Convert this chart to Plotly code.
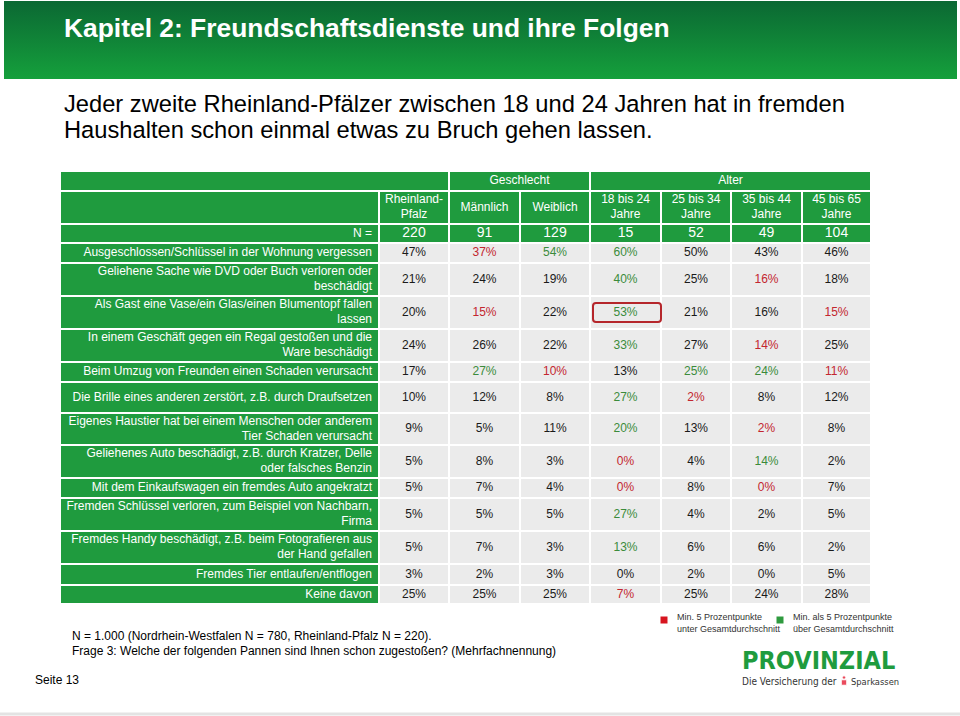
import plotly.graph_objects as go

# ---------------- data ----------------
TITLE = "Kapitel 2: Freundschaftsdienste und ihre Folgen"
SUBTITLE = ["Jeder zweite Rheinland-Pfälzer zwischen 18 und 24 Jahren hat in fremden",
            "Haushalten schon einmal etwas zu Bruch gehen lassen."]

COLUMN_HEADERS = ["Rheinland-\nPfalz", "Männlich", "Weiblich", "18 bis 24\nJahre",
                  "25 bis 34\nJahre", "35 bis 44\nJahre", "45 bis 65\nJahre"]
GROUP_LABELS = ["Geschlecht", "Alter"]
GROUP_SIZES = [2, 4]
N_LABEL = "N ="
N_VALUES = [220, 91, 129, 15, 52, 49, 104]

CATEGORIES = [
    "Ausgeschlossen/Schlüssel in der Wohnung vergessen",
    "Geliehene Sache wie DVD oder Buch verloren oder\nbeschädigt",
    "Als Gast eine Vase/ein Glas/einen Blumentopf fallen\nlassen",
    "In einem Geschäft gegen ein Regal gestoßen und die\nWare beschädigt",
    "Beim Umzug von Freunden einen Schaden verursacht",
    "Die Brille eines anderen zerstört, z.B. durch Draufsetzen",
    "Eigenes Haustier hat bei einem Menschen oder anderem\nTier Schaden verursacht",
    "Geliehenes Auto beschädigt, z.B. durch Kratzer, Delle\noder falsches Benzin",
    "Mit dem Einkaufswagen ein fremdes Auto angekratzt",
    "Fremden Schlüssel verloren, zum Beispiel von Nachbarn,\nFirma",
    "Fremdes Handy beschädigt, z.B. beim Fotografieren aus\nder Hand gefallen",
    "Fremdes Tier entlaufen/entflogen",
    "Keine davon",
]

RHEINLAND_PFALZ = [47, 21, 20, 24, 17, 10, 9, 5, 5, 5, 5, 3, 25]
MAENNLICH = [37, 24, 15, 26, 27, 12, 5, 8, 7, 5, 7, 2, 25]
WEIBLICH = [54, 19, 22, 22, 10, 8, 11, 3, 4, 5, 3, 3, 25]
AGE_18_24 = [60, 40, 53, 33, 13, 27, 20, 0, 0, 27, 13, 0, 7]
AGE_25_34 = [50, 25, 21, 27, 25, 2, 13, 4, 8, 4, 6, 2, 25]
AGE_35_44 = [43, 16, 16, 14, 24, 8, 2, 14, 0, 2, 6, 0, 24]
AGE_45_65 = [46, 18, 15, 25, 11, 12, 8, 2, 7, 5, 2, 5, 28]
SERIES = [RHEINLAND_PFALZ, MAENNLICH, WEIBLICH, AGE_18_24, AGE_25_34, AGE_35_44, AGE_45_65]

HIGHLIGHT_ROW = 2
HIGHLIGHT_COL = 3
THRESHOLD = 5  # percentage points vs. total

LEGEND_TEXTS = ["Min. 5 Prozentpunkte<br>unter Gesamtdurchschnitt",
                "Min. als 5 Prozentpunkte<br>über Gesamtdurchschnitt"]
FOOTNOTE = ["N = 1.000 (Nordrhein-Westfalen N = 780, Rheinland-Pfalz N = 220).",
            "Frage 3: Welche der folgenden Pannen sind Ihnen schon zugestoßen? (Mehrfachnennung)"]
PAGE = "Seite 13"
LOGO = "PROVINZIAL"
TAGLINE = ["Die Versicherung der", "Sparkassen"]

# ---------------- layout / style ----------------
W, H = 960, 716
FONT = "Liberation Sans, Arial, Helvetica, sans-serif"
NARROW = "Liberation Sans Narrow, DejaVu Sans Condensed, Arial Narrow, " + FONT
COL_EDGES = [61, 380, 450, 521, 591, 662, 732, 803, 872]
HEADER_ROWS = [(172, 192), (192, 225), (225, 244)]
ROW_TOP = 244
ROW_HEIGHTS = [20, 33, 33, 33, 20, 31, 32, 33, 20, 33, 33, 21, 19]
GAP = 2
LINE_STEP = 15
LABEL_PAD = 8

GREEN = "#1f9b3e"
CELL_GRAY = "#ebebeb"
TXT = "#1a1a1a"
RED_TXT = "#c3262f"
GREEN_TXT = "#3b8b3b"

bx0, bx1, by0, by1, bcol = [], [], [], [], []


def add_cell(x0, x1, y0, y1, color):
    bx0.append(x0)
    bx1.append(x1 - GAP)
    by0.append(y0)
    by1.append(y1 - GAP)
    bcol.append(color)


ctx, cty, ctt, ctc, cts = [], [], [], [], []   # centred text
rtx, rty, rtt, rtc, rts = [], [], [], [], []   # right-aligned text


def add_text(lines, x, yc, color, size, right=False):
    parts = lines.split("\n")
    n = len(parts)
    for i, p in enumerate(parts):
        y = yc + (i - (n - 1) / 2) * LINE_STEP
        if right:
            rtx.append(x); rty.append(y); rtt.append(p); rtc.append(color); rts.append(size)
        else:
            ctx.append(x); cty.append(y); ctt.append(p); ctc.append(color); cts.append(size)


def cc(i):
    return (COL_EDGES[i] + COL_EDGES[i + 1] - GAP) / 2


def rc(y0, y1):
    return (y0 + y1 - GAP) / 2


# header row 1
h0, h1 = HEADER_ROWS[0]
add_cell(COL_EDGES[0], COL_EDGES[2], h0, h1, GREEN)
start = 2
for lab, size in zip(GROUP_LABELS, GROUP_SIZES):
    add_cell(COL_EDGES[start], COL_EDGES[start + size], h0, h1, GREEN)
    add_text(lab, (COL_EDGES[start] + COL_EDGES[start + size] - GAP) / 2, rc(h0, h1), "white", 12)
    start += size

# header row 2
h0, h1 = HEADER_ROWS[1]
add_cell(COL_EDGES[0], COL_EDGES[1], h0, h1, GREEN)
for j, lab in enumerate(COLUMN_HEADERS):
    add_cell(COL_EDGES[j + 1], COL_EDGES[j + 2], h0, h1, GREEN)
    add_text(lab, cc(j + 1), rc(h0, h1), "white", 12)

# N row
h0, h1 = HEADER_ROWS[2]
add_cell(COL_EDGES[0], COL_EDGES[1], h0, h1, GREEN)
add_text(N_LABEL, COL_EDGES[1] - LABEL_PAD, rc(h0, h1), "white", 12, right=True)
for j, nv in enumerate(N_VALUES):
    add_cell(COL_EDGES[j + 1], COL_EDGES[j + 2], h0, h1, GREEN)
    add_text(str(nv), cc(j + 1), rc(h0, h1), "white", 14)

# data rows
y = ROW_TOP
row_bounds = []
for r, (cat, hgt) in enumerate(zip(CATEGORIES, ROW_HEIGHTS)):
    y0, y1 = y, y + hgt
    row_bounds.append((y0, y1))
    add_cell(COL_EDGES[0], COL_EDGES[1], y0, y1, GREEN)
    add_text(cat, COL_EDGES[1] - LABEL_PAD, rc(y0, y1), "white", 12, right=True)
    total = SERIES[0][r]
    for j, ser in enumerate(SERIES):
        v = ser[r]
        add_cell(COL_EDGES[j + 1], COL_EDGES[j + 2], y0, y1, CELL_GRAY)
        col = TXT
        if j > 0:
            if v - total <= -THRESHOLD:
                col = RED_TXT
            elif v - total >= THRESHOLD:
                col = GREEN_TXT
        add_text(f"{v}%", cc(j + 1), rc(y0, y1), col, 12)
    y = y1

fig = go.Figure()

# title band (vertical gradient)
fig.add_trace(go.Scatter(
    x=[4, 957, 957, 4, 4], y=[1, 1, 79, 79, 1], mode="lines", fill="toself",
    line=dict(width=0),
    fillgradient=dict(type="vertical", start=1, stop=79,
                      colorscale=[[0, "#0b6833"], [1, "#15a03c"]]),
    hoverinfo="skip"))

# table cells
fig.add_trace(go.Bar(
    orientation="h",
    y=[(a + b) / 2 for a, b in zip(by0, by1)],
    width=[b - a for a, b in zip(by0, by1)],
    base=bx0,
    x=[b - a for a, b in zip(bx0, bx1)],
    marker=dict(color=bcol, line=dict(width=0)),
    hoverinfo="skip"))

fig.add_trace(go.Scatter(
    x=ctx, y=cty, text=ctt, mode="text", textposition="middle center",
    textfont=dict(family=FONT, size=cts, color=ctc), hoverinfo="skip"))
fig.add_trace(go.Scatter(
    x=rtx, y=rty, text=rtt, mode="text", textposition="middle left",
    textfont=dict(family=FONT, size=rts, color=rtc), hoverinfo="skip"))

# legend squares
fig.add_trace(go.Scatter(
    x=[664, 780], y=[620, 620], mode="markers",
    marker=dict(symbol="square", size=7, color=["#d7141f", "#2f9a3f"]),
    hoverinfo="skip"))

# sparkassen mark
fig.add_trace(go.Scatter(
    x=[844, 844], y=[677.5, 682.5], mode="markers",
    marker=dict(symbol=["circle", "square"], size=[3.5, 5.5], color="#e2001a"),
    hoverinfo="skip"))

# highlight box
hb0, hb1 = row_bounds[HIGHLIGHT_ROW]
x0 = COL_EDGES[HIGHLIGHT_COL + 1] + 2
x1 = COL_EDGES[HIGHLIGHT_COL + 2] - 1
yc = rc(hb0, hb1)
y0, y1 = yc - 9.5, yc + 9.5
rr = 3
path = (f"M {x0+rr},{y0} L {x1-rr},{y0} Q {x1},{y0} {x1},{y0+rr} L {x1},{y1-rr} "
        f"Q {x1},{y1} {x1-rr},{y1} L {x0+rr},{y1} Q {x0},{y1} {x0},{y1-rr} "
        f"L {x0},{y0+rr} Q {x0},{y0} {x0+rr},{y0} Z")
fig.add_shape(type="path", path=path, xref="x", yref="y",
              line=dict(color="#b5262b", width=2))

# bottom line
fig.add_shape(type="line", x0=0, x1=960, y0=714, y1=714, xref="x", yref="y",
              line=dict(color="#e3e3e3", width=3))

ann = []
ann.append(dict(x=62, y=28, text=f"<b>{TITLE}</b>", xanchor="left", yanchor="middle",
                font=dict(family=FONT, size=26.4, color="white")))
ann.append(dict(x=62, y=104, text=SUBTITLE[0], xanchor="left", yanchor="middle",
                font=dict(family=FONT, size=23.7, color="black")))
ann.append(dict(x=62, y=130, text=SUBTITLE[1], xanchor="left", yanchor="middle",
                font=dict(family=FONT, size=23.7, color="black")))
ann.append(dict(x=675, y=623, text=LEGEND_TEXTS[0], xanchor="left", yanchor="middle",
                align="left", font=dict(family=FONT, size=9, color="#333")))
ann.append(dict(x=791, y=623, text=LEGEND_TEXTS[1], xanchor="left", yanchor="middle",
                align="left", font=dict(family=FONT, size=9, color="#333")))
ann.append(dict(x=70, y=636, text=FOOTNOTE[0], xanchor="left", yanchor="middle",
                font=dict(family=FONT, size=12, color="black")))
ann.append(dict(x=70, y=651, text=FOOTNOTE[1], xanchor="left", yanchor="middle",
                font=dict(family=FONT, size=12, color="black")))
ann.append(dict(x=33, y=680, text=PAGE, xanchor="left", yanchor="middle",
                font=dict(family=FONT, size=12, color="black")))
ann.append(dict(x=897, y=660, text=f"<b>{LOGO}</b>", xanchor="right", yanchor="middle",
                font=dict(family=NARROW, size=25, color="#1f9b3e")))
ann.append(dict(x=839, y=681, text=TAGLINE[0], xanchor="right", yanchor="middle",
                font=dict(family=NARROW, size=10, color="#333")))
ann.append(dict(x=849, y=681, text=TAGLINE[1], xanchor="left", yanchor="middle",
                font=dict(family=NARROW, size=9.3, color="#333")))
for a in ann:
    a.update(xref="x", yref="y", showarrow=False)

fig.update_layout(
    width=W, height=H, margin=dict(l=0, r=0, t=0, b=0),
    paper_bgcolor="white", plot_bgcolor="white", showlegend=False,
    barmode="overlay", annotations=ann,
    xaxis=dict(range=[0, W], visible=False, fixedrange=True),
    yaxis=dict(range=[H, 0], visible=False, fixedrange=True, type="linear"),
)

fig.write_html("out.html", config={"displayModeBar": False},
               post_script="document.body.style.margin='0';document.body.style.overflow='hidden';")
